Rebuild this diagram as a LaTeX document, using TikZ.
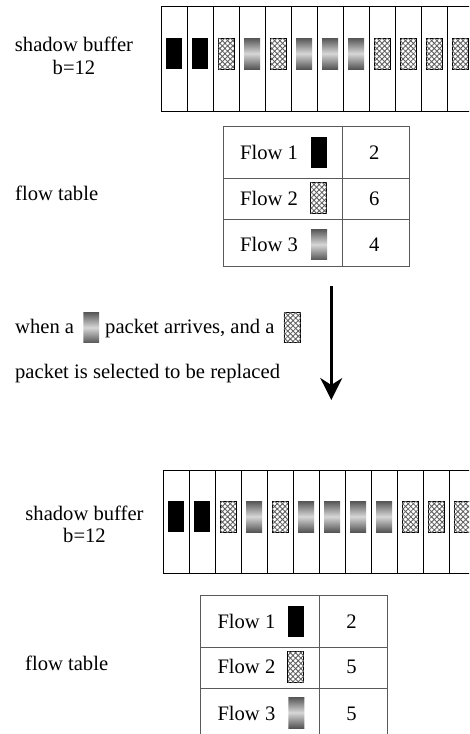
\documentclass[tikz,border=0pt]{standalone}
\usepackage{fontspec}
\setmainfont{Liberation Serif}
\usetikzlibrary{arrows.meta,patterns.meta,calc}
\definecolor{gdark}{RGB}{80,80,80}
\definecolor{glight}{RGB}{215,215,215}
\definecolor{tline}{RGB}{90,90,90}
\definecolor{hatchc}{RGB}{95,95,95}
\tikzset{
 lbl/.style={font=\fontsize{20.6}{23}\selectfont, inner sep=0pt, text=black},
 cell/.style={draw=black, line width=1.3pt, minimum width=26pt, inner sep=0pt, anchor=north west},
 pkt/.style={minimum width=16pt, minimum height=31pt, inner sep=0pt},
 pB/.style={pkt, fill=black},
 pH/.style={pkt, draw=black, line width=0.75pt, fill=white,
   postaction={pattern={Hatch[angle=45,distance=3.7pt,line width=0.85pt]}, pattern color=hatchc}},
 pG/.style={pkt, path picture={
   \foreach \k in {0,...,31}{
     \pgfmathsetmacro\pp{100-abs(\k+0.5-16)/16*100}
     \fill[color=glight!\pp!gdark] ($(path picture bounding box.north west)+(-1,\k)$) rectangle ++(20,1.1);
   }}},
 tcell/.style={draw=tline, line width=1pt, inner sep=0pt, anchor=north west},
 arr/.style={line width=2.7pt, -{Stealth[length=22pt,width=22pt,inset=7pt]}}
}
\newcommand{\FlowTab}[4]{%
 \node[tcell, minimum width=119.3pt, minimum height=52pt] (#1a1) at (0,0) {};
 \node[tcell, minimum width=67.3pt, minimum height=52pt] (#1b1) at (119.3,0) {};
 \node[tcell, minimum width=119.3pt, minimum height=41.3pt] (#1a2) at (0,52) {};
 \node[tcell, minimum width=67.3pt, minimum height=41.3pt] (#1b2) at (119.3,52) {};
 \node[tcell, minimum width=119.3pt, minimum height=46.7pt] (#1a3) at (0,93.3) {};
 \node[tcell, minimum width=67.3pt, minimum height=46.7pt] (#1b3) at (119.3,93.3) {};
 \node[lbl, anchor=base west] (#1f1) at (17.3,33.6) {Flow 1};
 \node[lbl, anchor=base west] (#1f2) at (17.3,79.3) {Flow 2};
 \node[lbl, anchor=base west] (#1f3) at (17.3,126) {Flow 3};
 \node[pB] (#1k1) at (96.3,26.8) {};
 \node[pH] (#1k2) at (95.8,72) {};
 \node[pG] (#1k3) at (96.3,118.3) {};
 \node[lbl, anchor=base] (#1n1) at (151.5,33.6) {#2};
 \node[lbl, anchor=base] (#1n2) at (151.5,79.3) {#3};
 \node[lbl, anchor=base] (#1n3) at (151.5,126) {#4};
}
\begin{document}
\begin{tikzpicture}[x=1pt,y=-1pt]
\useasboundingbox (0,0) rectangle (469,734);
\clip (0,0) rectangle (469,734);
% ---- top shadow buffer
\node[lbl, anchor=base] (sb1) at (74,51.7) {shadow buffer};
\node[lbl, anchor=base] (bb1) at (74,74.3) {b=12};
\foreach \i in {0,...,11} \node[cell, minimum height=105pt] (tc\i) at ({161+26*\i},6) {};
\foreach \i in {0,1} \node[pB] (tp\i) at ({174+26*\i},53.5) {};
\foreach \i in {2,4,8,9,10,11} \node[pH] (tp\i) at ({174+26*\i},53.5) {};
\foreach \i in {3,5,6,7} \node[pG] (tp\i) at ({174+26*\i},53.5) {};
% ---- top flow table
\node[lbl, anchor=base west] (ft1) at (15,200.7) {flow table};
\begin{scope}[shift={(222.7,125.7)}]
\FlowTab{T}{2}{6}{4}
\end{scope}
% ---- transition text and arrow
\node[lbl, anchor=base west] (w1) at (15,333.3) {when a};
\node[pG, minimum width=15.7pt, minimum height=30.4pt] (wg) at (91.2,327.5) {};
\node[lbl, anchor=base west] (w2) at (105,333.3) {packet arrives, and a};
\node[pH, minimum width=16.7pt, minimum height=30.4pt] (wh) at (292.3,327.5) {};
\node[lbl, anchor=base west] (w3) at (15,378.3) {packet is selected to be replaced};
\coordinate (a0) at (331.3,286);
\coordinate (a1) at (331.3,400);
\draw[arr] (a0) -- (a1);
% ---- bottom shadow buffer
\node[lbl, anchor=base] (sb2) at (84.5,520) {shadow buffer};
\node[lbl, anchor=base] (bb2) at (84.5,542.6) {b=12};
\foreach \i in {0,...,11} \node[cell, minimum height=103pt] (bc\i) at ({163+26*\i},470) {};
\foreach \i in {0,1} \node[pB] (bp\i) at ({176+26*\i},516.5) {};
\foreach \i in {2,4,9,10,11} \node[pH] (bp\i) at ({176+26*\i},516.5) {};
\foreach \i in {3,5,6,7,8} \node[pG] (bp\i) at ({176+26*\i},516.5) {};
% ---- bottom flow table
\node[lbl, anchor=base west] (ft2) at (25,670) {flow table};
\begin{scope}[shift={(200,594.5)}]
\FlowTab{B}{2}{5}{5}
\end{scope}
\end{tikzpicture}
\end{document}
